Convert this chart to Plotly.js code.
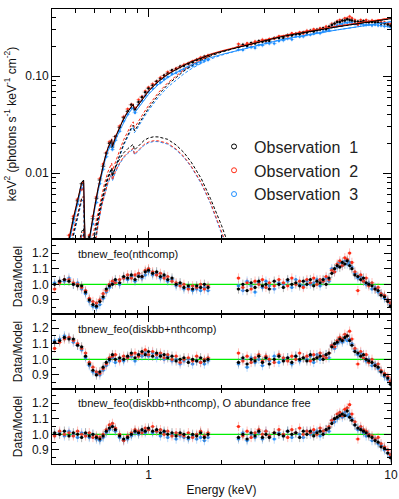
<!DOCTYPE html>
<html>
<head>
<meta charset="utf-8">
<script src="https://cdn.plot.ly/plotly-3.0.1.min.js"></script>
<style>
body{margin:0;background:#fff;}
#spec{width:399px;height:499px;}
</style>
</head>
<body>
<div id="spec"></div>
<script>
var FONT = 'Liberation Sans, Arial, sans-serif';

// energy bins (keV) shared by all three observations
var energy = [0.41,0.43,0.45,0.47,0.49,0.51,0.53,0.55,0.57,0.59,0.61,0.63,0.65,0.67,0.69,0.71,0.73,0.76,0.79,0.82,
  0.85,0.88,0.91,0.94,0.97,1.00,1.04,1.08,1.12,1.16,1.20,1.25,1.30,1.35,1.40,1.46,1.52,1.58,1.64,1.70,1.76,
  2.35,2.45,2.55,2.65,2.75,2.85,2.95,3.05,3.15,3.30,3.45,3.60,3.75,3.90,4.05,4.20,4.35,4.50,4.65,4.80,
  4.95,5.10,5.25,5.40,5.55,5.70,5.85,6.00,6.15,6.30,6.45,6.60,6.75,6.90,7.10,7.30,7.50,7.70,7.90,8.10,
  8.35,8.60,8.85,9.10,9.40,9.70,9.95];

// unfolded spectra, keV^2 (photons s^-1 keV^-1 cm^-2)
var flux1 = [0.0004,0.0007,0.0012,0.0021,0.0034,0.0052,0.0078,0.0011,0.0022,0.0034,0.0055,0.0085,0.0118,0.0160,0.0203,
  0.0186,0.0238,0.0296,0.0373,0.0433,0.0505,0.0455,0.0540,0.0605,0.0680,0.0745,0.0800,0.0880,0.0935,0.1010,
  0.1060,0.1150,0.1180,0.1255,0.1280,0.1350,0.1390,0.1470,0.1510,0.1590,0.1610,
  0.200,0.210,0.205,0.219,0.216,0.229,0.226,0.232,0.229,0.246,0.246,0.247,0.264,0.261,0.271,0.270,0.282,0.281,
  0.293,0.287,0.300,0.301,0.310,0.305,0.321,0.335,0.348,0.360,0.360,0.373,0.374,0.384,0.378,0.374,0.365,0.364,
  0.361,0.368,0.361,0.361,0.360,0.356,0.355,0.347,0.347,0.339,0.330];
var flux2 = [0.0004,0.0008,0.0013,0.0023,0.0036,0.0054,0.0068,0.0012,0.0023,0.0036,0.0057,0.0088,0.0124,0.0163,0.0210,
  0.0195,0.0238,0.0306,0.0382,0.0457,0.0510,0.0468,0.0570,0.0617,0.0700,0.0765,0.0830,0.0885,0.0965,0.1015,
  0.1100,0.1140,0.1200,0.1240,0.1310,0.1330,0.1420,0.1460,0.1550,0.1550,0.1630,
  0.214,0.208,0.217,0.212,0.227,0.226,0.237,0.230,0.241,0.242,0.257,0.257,0.257,0.275,0.272,0.282,0.274,0.293,
  0.291,0.304,0.297,0.310,0.311,0.324,0.322,0.345,0.346,0.367,0.378,0.371,0.393,0.393,0.410,0.393,0.377,0.339,
  0.378,0.367,0.378,0.363,0.374,0.363,0.370,0.357,0.357,0.349,0.344];
var flux3 = [0.0004,0.0007,0.0011,0.0020,0.0031,0.0048,0.0070,0.0010,0.0020,0.0030,0.0050,0.0078,0.0110,0.0148,0.0186,
  0.0175,0.0218,0.0270,0.0345,0.0402,0.0465,0.0420,0.0510,0.0560,0.0630,0.0690,0.0745,0.0818,0.0860,0.0925,
  0.0975,0.1050,0.1080,0.1130,0.1170,0.1230,0.1270,0.1320,0.1370,0.1430,0.1460,
  0.187,0.185,0.201,0.198,0.194,0.209,0.207,0.219,0.216,0.216,0.230,0.233,0.243,0.238,0.258,0.254,0.255,0.267,
  0.266,0.273,0.282,0.276,0.289,0.298,0.296,0.322,0.321,0.333,0.345,0.343,0.355,0.353,0.359,0.353,0.343,0.338,
  0.344,0.338,0.335,0.341,0.332,0.338,0.332,0.332,0.325,0.326,0.318];

// data/model, tbnew_feo(nthcomp)
var ratioA1 = [1.00,1.02,1.03,1.02,1.00,0.99,0.99,0.95,0.90,0.87,0.86,0.89,0.92,0.97,0.99,1.00,1.03,1.01,1.05,1.04,
  1.06,1.03,1.05,1.05,1.08,1.09,1.07,1.08,1.05,1.06,1.03,1.04,1.00,1.01,0.98,0.99,0.97,0.99,0.98,1.00,0.98,
  0.97,1.00,0.96,1.01,0.98,1.02,0.99,1.00,0.97,1.02,1.00,0.98,1.03,1.00,1.01,0.99,1.02,1.00,1.03,0.99,
  1.02,1.01,1.03,1.00,1.04,1.07,1.10,1.12,1.11,1.14,1.13,1.15,1.12,1.10,1.06,1.05,1.03,1.04,1.01,1.00,
  0.99,0.97,0.96,0.93,0.92,0.89,0.86];
var ratioA2 = [0.97,1.01,1.03,1.03,1.01,1.00,0.98,0.96,0.91,0.89,0.88,0.90,0.94,0.96,1.00,1.02,1.01,1.03,1.04,1.06,
  1.04,1.06,1.07,1.05,1.09,1.10,1.08,1.06,1.07,1.04,1.05,1.02,1.01,0.99,1.00,0.97,0.99,0.98,1.00,0.97,0.99,
  1.04,0.98,1.01,0.97,1.02,1.00,1.03,0.98,1.01,0.99,1.03,1.01,0.99,1.04,1.00,1.02,0.98,1.03,1.01,1.04,
  1.00,1.03,1.02,1.05,1.03,1.09,1.08,1.13,1.15,1.12,1.17,1.16,1.20,1.14,1.08,0.96,1.06,1.02,1.04,0.99,
  1.01,0.97,0.98,0.94,0.93,0.90,0.88];
var ratioA3 = [1.01,1.02,1.02,1.04,1.00,1.01,0.97,0.94,0.89,0.86,0.85,0.87,0.91,0.95,0.98,1.01,1.02,1.00,1.04,1.03,
  1.05,1.02,1.06,1.04,1.06,1.08,1.06,1.07,1.04,1.05,1.02,1.03,0.99,1.00,0.97,0.98,0.96,0.97,0.96,0.98,0.96,
  0.99,0.96,1.02,0.99,0.95,1.01,0.98,1.02,0.99,0.97,1.01,1.00,1.02,0.98,1.03,1.00,0.99,1.02,1.00,1.01,
  1.03,0.99,1.02,1.04,1.02,1.10,1.08,1.11,1.14,1.12,1.15,1.13,1.14,1.11,1.07,1.04,1.05,1.02,1.00,1.01,
  0.97,0.98,0.95,0.94,0.91,0.90,0.87];

// data/model, tbnew_feo(diskbb+nthcomp)
var ratioB1 = [1.11,1.12,1.14,1.13,1.13,1.09,1.08,1.02,0.97,0.93,0.90,0.92,0.95,0.98,1.00,1.03,1.00,1.01,1.00,1.02,
  1.04,1.01,1.03,1.05,1.03,1.05,1.02,1.04,1.02,1.03,1.01,1.02,0.99,1.00,1.01,0.98,1.00,0.99,1.01,0.99,1.00,
  0.98,1.01,0.97,1.00,0.99,1.02,0.98,1.01,0.97,1.00,1.02,0.99,1.01,0.98,1.02,1.00,1.01,0.99,1.03,1.00,
  1.01,1.02,1.00,1.03,1.04,1.08,1.10,1.11,1.13,1.12,1.14,1.15,1.12,1.09,1.05,1.04,1.02,1.03,1.00,0.99,
  0.98,0.96,0.95,0.92,0.90,0.88,0.84];
var ratioB2 = [1.07,1.11,1.13,1.14,1.12,1.10,1.07,1.04,0.98,0.95,0.92,0.91,0.94,0.97,1.01,1.02,1.03,0.99,1.02,1.01,
  1.03,1.04,1.02,1.04,1.06,1.03,1.05,1.03,1.04,1.01,1.03,1.00,1.02,0.98,1.00,1.01,0.99,1.02,0.98,1.00,1.01,
  1.04,0.99,1.02,0.98,1.01,1.03,0.99,1.02,1.00,0.98,1.03,1.01,0.99,1.02,1.00,1.04,1.01,1.02,0.99,1.03,
  1.01,1.04,1.02,1.01,1.04,1.09,1.08,1.12,1.14,1.13,1.16,1.15,1.18,1.13,1.07,0.97,1.05,1.01,1.03,0.98,
  1.00,0.96,0.97,0.93,0.91,0.89,0.86];
var ratioB3 = [1.12,1.13,1.15,1.14,1.11,1.09,1.06,1.01,0.96,0.92,0.91,0.90,0.93,0.96,0.99,1.01,0.98,1.00,0.99,1.01,
  1.02,0.99,1.03,1.02,1.04,1.02,1.04,1.01,1.03,1.00,1.02,0.99,1.00,0.97,0.99,1.00,0.97,0.99,0.98,0.97,0.99,
  0.97,1.00,0.95,1.01,0.98,1.00,0.96,1.01,0.99,1.02,0.98,1.00,1.01,0.97,1.02,0.99,1.01,1.00,1.02,0.98,
  1.03,1.00,1.02,1.03,1.01,1.09,1.07,1.10,1.12,1.11,1.13,1.12,1.13,1.10,1.06,1.03,1.04,1.01,0.99,1.00,
  0.96,0.97,0.94,0.92,0.89,0.87,0.85];

// data/model, tbnew_feo(diskbb+nthcomp), O abundance free
var ratioC1 = [1.01,1.00,1.02,0.99,1.01,1.00,0.98,1.01,0.99,1.00,0.98,0.97,0.99,1.02,1.04,1.05,1.03,0.99,0.97,0.98,
  1.00,1.02,1.01,1.03,1.02,1.04,1.02,1.03,1.01,1.02,1.00,1.01,0.99,1.01,1.00,0.98,1.00,0.99,1.01,0.98,1.00,
  0.98,1.00,0.97,1.01,0.99,1.02,0.98,1.00,0.98,1.01,1.00,0.99,1.02,1.00,1.01,0.98,1.02,1.00,1.02,0.99,
  1.01,1.02,1.00,1.03,1.04,1.07,1.10,1.11,1.12,1.13,1.12,1.15,1.11,1.09,1.06,1.04,1.03,1.02,1.01,0.99,
  0.98,0.96,0.95,0.92,0.91,0.88,0.85];
var ratioC2 = [0.99,1.02,1.00,1.01,0.99,1.02,1.00,0.99,1.01,0.98,0.99,0.98,1.00,1.03,1.06,1.07,1.04,1.00,0.96,0.99,
  1.01,1.03,1.02,1.01,1.04,1.03,1.05,1.02,1.03,1.00,1.02,0.99,1.01,1.00,0.99,1.01,0.98,1.00,1.02,0.99,1.01,
  1.05,0.99,1.02,0.98,1.01,1.03,1.00,1.02,0.99,1.01,1.03,1.00,0.98,1.03,1.01,1.04,1.00,1.02,1.01,1.03,
  1.00,1.04,1.02,1.03,1.05,1.09,1.10,1.13,1.14,1.12,1.16,1.17,1.19,1.13,1.08,0.97,1.05,1.03,1.02,1.00,
  0.99,0.97,0.98,0.94,0.92,0.90,0.87];
var ratioC3 = [1.00,1.01,0.99,1.02,1.00,0.98,1.01,1.00,0.98,1.00,0.97,0.96,0.98,1.01,1.03,1.05,1.02,0.98,0.96,0.97,
  0.99,1.01,1.00,1.02,1.01,1.03,1.01,1.02,0.99,1.01,0.98,1.00,0.97,0.99,0.98,0.97,0.99,0.97,0.98,0.96,0.98,
  0.97,1.01,0.96,1.00,0.98,1.01,0.97,1.02,0.99,0.97,1.01,0.99,1.02,0.98,1.01,1.00,0.98,1.02,1.00,1.01,
  1.02,0.99,1.01,1.03,1.02,1.09,1.08,1.10,1.13,1.11,1.14,1.12,1.13,1.10,1.06,1.03,1.04,1.01,0.99,1.00,
  0.96,0.97,0.94,0.93,0.90,0.88,0.86];

// model grid (keV) and model curves
var modelE = [0.45,0.47,0.49,0.51,0.53,0.54,0.55,0.56,0.58,0.60,0.62,0.64,0.66,0.68,0.70,0.705,0.71,0.73,0.76,0.79,
  0.82,0.85,0.865,0.875,0.89,0.92,0.96,1.0,1.05,1.1,1.2,1.3,1.4,1.5,1.65,1.8,2.0,2.3,2.6,3.0,
  3.5,4.0,4.5,5.0,5.5,6.0,6.5,7.0,7.5,8.0,8.5,9.0,9.5,10.0];
var total1 = [0.0012,0.0021,0.0034,0.0052,0.0080,0.0085,0.0012,0.0016,0.0028,0.0045,0.0070,0.0102,0.0140,0.0180,0.0215,
  0.0222,0.0188,0.0232,0.0293,0.0362,0.0425,0.0485,0.0510,0.0445,0.0470,0.0535,0.0615,0.0695,0.0790,0.0880,
  0.1040,0.1170,0.1290,0.1400,0.1540,0.1660,0.1790,0.1960,0.2120,0.2320,0.2530,0.2700,0.2850,0.2980,0.3100,
  0.3210,0.3310,0.3410,0.3500,0.3590,0.3670,0.3750,0.3830,0.3900];
var total2 = [0.0013,0.0022,0.0035,0.0053,0.0078,0.0083,0.0012,0.0016,0.0029,0.0046,0.0071,0.0104,0.0142,0.0183,0.0219,
  0.0226,0.0191,0.0236,0.0298,0.0368,0.0432,0.0492,0.0518,0.0452,0.0477,0.0543,0.0624,0.0705,0.0802,0.0893,
  0.1055,0.1188,0.1310,0.1420,0.1563,0.1685,0.1817,0.1990,0.2150,0.2355,0.2570,0.2740,0.2895,0.3025,0.3145,
  0.3260,0.3360,0.3460,0.3555,0.3645,0.3725,0.3810,0.3890,0.3960];
var total3 = [0.0011,0.0019,0.0031,0.0048,0.0073,0.0078,0.0011,0.0015,0.0026,0.0042,0.0065,0.0095,0.0131,0.0168,0.0201,
  0.0207,0.0176,0.0217,0.0273,0.0337,0.0396,0.0452,0.0476,0.0415,0.0438,0.0498,0.0573,0.0647,0.0735,0.0819,
  0.0968,0.1088,0.1200,0.1302,0.1432,0.1544,0.1665,0.1823,0.1972,0.2158,0.2353,0.2511,0.2651,0.2771,0.2883,
  0.2985,0.3078,0.3171,0.3255,0.3339,0.3413,0.3488,0.3562,0.3627];
// nthcomp component
var nth1 = [0.0009,0.0015,0.0024,0.0036,0.0055,0.0058,0.0008,0.0011,0.0017,0.0025,0.0037,0.0052,0.0072,0.0092,0.0110,
  0.0113,0.0095,0.0118,0.0153,0.0200,0.0247,0.0293,0.0312,0.0272,0.0290,0.0337,0.0397,0.0465,0.0553,0.0644,
  0.0817,0.0975,0.1127,0.1270,0.1452,0.1605,0.1761,0.1949,0.2116,0.2320,0.2530,0.2700,0.2850,0.2980,0.3100,
  0.3210,0.3310,0.3410,0.3500,0.3590,0.3670,0.3750,0.3830,0.3900];
var nth2 = [0.0010,0.0017,0.0026,0.0038,0.0055,0.0058,0.0008,0.0011,0.0019,0.0028,0.0041,0.0058,0.0080,0.0103,0.0123,
  0.0127,0.0106,0.0132,0.0171,0.0221,0.0270,0.0317,0.0338,0.0295,0.0313,0.0363,0.0426,0.0496,0.0586,0.0678,
  0.0852,0.1011,0.1162,0.1302,0.1483,0.1635,0.1791,0.1980,0.2146,0.2355,0.2570,0.2740,0.2895,0.3025,0.3145,
  0.3260,0.3360,0.3460,0.3555,0.3645,0.3725,0.3810,0.3890,0.3960];
var nth3 = [0.0008,0.0014,0.0022,0.0034,0.0051,0.0054,0.0007,0.0010,0.0016,0.0024,0.0036,0.0050,0.0070,0.0090,0.0107,
  0.0110,0.0093,0.0115,0.0148,0.0193,0.0237,0.0281,0.0300,0.0261,0.0277,0.0322,0.0379,0.0442,0.0523,0.0608,
  0.0769,0.0914,0.1055,0.1186,0.1354,0.1495,0.1640,0.1813,0.1968,0.2158,0.2353,0.2511,0.2651,0.2771,0.2883,
  0.2985,0.3078,0.3171,0.3255,0.3339,0.3413,0.3488,0.3562,0.3627];
// diskbb component (up to 2.6 keV)
var disk1 = [0.0003,0.0006,0.0010,0.0016,0.0025,0.0027,0.0004,0.0005,0.0011,0.0020,0.0033,0.0050,0.0068,0.0088,0.0105,
  0.0109,0.0093,0.0114,0.0140,0.0162,0.0178,0.0192,0.0198,0.0173,0.0180,0.0198,0.0218,0.0230,0.0237,0.0236,
  0.0223,0.0195,0.0163,0.0130,0.0088,0.0055,0.0029,0.0011,0.0004];
var disk2 = [0.0003,0.0005,0.0009,0.0015,0.0023,0.0025,0.0004,0.0005,0.0010,0.0018,0.0030,0.0046,0.0062,0.0080,0.0096,
  0.0099,0.0085,0.0104,0.0127,0.0147,0.0162,0.0175,0.0180,0.0157,0.0164,0.0180,0.0198,0.0209,0.0216,0.0215,
  0.0203,0.0177,0.0148,0.0118,0.0080,0.0050,0.0026,0.0010,0.0004];
var disk3 = [0.0003,0.0005,0.0009,0.0014,0.0022,0.0024,0.0004,0.0005,0.0010,0.0018,0.0029,0.0045,0.0061,0.0078,0.0094,
  0.0097,0.0083,0.0102,0.0125,0.0144,0.0159,0.0171,0.0176,0.0154,0.0161,0.0176,0.0194,0.0205,0.0212,0.0211,
  0.0199,0.0174,0.0145,0.0116,0.0078,0.0049,0.0025,0.0010,0.0004];

var obsNames = ['Observation\u00a0\u00a01', 'Observation\u00a0\u00a02', 'Observation\u00a0\u00a03'];
var panelLabels = ['tbnew_feo(nthcomp)', 'tbnew_feo(diskbb+nthcomp)', 'tbnew_feo(diskbb+nthcomp), O abundance free'];
var xTickVals = [1, 10], xTickText = ['1', '10'];
var xMinor = [0.5,0.6,0.7,0.8,0.9,2,3,4,5,6,7,8,9];
var fluxTickVals = [0.01, 0.1], fluxTickText = ['0.01', '0.10'];
var fluxMinor = [0.003,0.004,0.005,0.006,0.007,0.008,0.009,0.02,0.03,0.04,0.05,0.06,0.07,0.08,0.09,0.2,0.3,0.4];
var ratioTickVals = [0.9, 1.0, 1.1, 1.2], ratioTickText = ['0.9', '1.0', '1.1', '1.2'];
var ratioMinor = [0.85, 0.95, 1.05, 1.15, 1.25];

var cols = ['#000000', '#ff2a12', '#1f8fff'];
var errCols = ['rgba(110,110,110,0.5)', 'rgba(255,110,100,0.45)', 'rgba(90,170,255,0.45)'];

function dataTrace(y, ax, i, yerr){
  return {
    x: energy, y: y, xaxis: 'x' + ax, yaxis: 'y' + ax,
    type: 'scatter', mode: 'markers', showlegend: false, hoverinfo: 'skip',
    marker: {size: ax === '' ? 2.5 : 3.2, color: cols[i]},
    error_y: yerr,
    error_x: {type: 'percent', value: 2.5, color: errCols[i], thickness: 1, width: 0}
  };
}
function modelTrace(x, y, i, dash){
  return {
    x: x, y: y, xaxis: 'x', yaxis: 'y', type: 'scatter', mode: 'lines',
    showlegend: false, hoverinfo: 'skip',
    line: {color: cols[i], width: 1, dash: dash}
  };
}
function xAxis(anchor, labels){
  return {
    type: 'log', range: [Math.log10(0.4), 1], anchor: anchor,
    showline: true, linecolor: '#000', linewidth: 1, mirror: 'ticks',
    ticks: 'inside', ticklen: 8, tickwidth: 1, tickcolor: '#000',
    tickvals: xTickVals, ticktext: xTickText, showticklabels: labels,
    minor: {tickvals: xMinor, ticks: 'inside', ticklen: 4, tickcolor: '#000'},
    showgrid: false, zeroline: false,
    tickfont: {family: FONT, size: 12, color: '#111'}
  };
}
function ratioAxis(anchor, dom){
  return {
    domain: dom, anchor: anchor, range: [0.81, 1.29],
    showline: true, linecolor: '#000', linewidth: 1, mirror: 'ticks',
    ticks: 'inside', ticklen: 7, tickcolor: '#000',
    tickvals: ratioTickVals, ticktext: ratioTickText,
    minor: {tickvals: ratioMinor, ticks: 'inside', ticklen: 4, tickcolor: '#000'},
    showgrid: false, zeroline: false,
    tickfont: {family: FONT, size: 12, color: '#111'},
    title: {text: 'Data/Model', font: {family: FONT, size: 12, color: '#111'}, standoff: 6}
  };
}

function drawSpectrum(){
  var fluxes = [flux1, flux2, flux3];
  var totals = [total1, total2, total3];
  var nths = [nth1, nth2, nth3];
  var disks = [disk1, disk2, disk3];
  var ratios = [[ratioA1, ratioA2, ratioA3], [ratioB1, ratioB2, ratioB3], [ratioC1, ratioC2, ratioC3]];
  var data = [];
  var order = [2, 1, 0];
  order.forEach(function(i){
    data.push(dataTrace(fluxes[i], '', i, {type: 'percent', value: 5, color: errCols[i], thickness: 1, width: 0}));
  });
  order.forEach(function(i){
    data.push(modelTrace(modelE.slice(0, disks[i].length), disks[i], i, '3px,2px'));
    data.push(modelTrace(modelE, nths[i], i, '3px,2px'));
  });
  order.forEach(function(i){
    data.push(modelTrace(modelE, totals[i], i, 'solid'));
  });
  for (var p = 0; p < 3; p++){
    order.forEach(function(i){
      data.push(dataTrace(ratios[p][i], String(p + 2), i,
        {type: 'constant', value: 0.03, color: errCols[i], thickness: 1, width: 0}));
    });
  }
  // legend entries
  for (var i = 0; i < 3; i++){
    data.push({
      x: [null], y: [null], xaxis: 'x', yaxis: 'y', type: 'scatter', mode: 'markers',
      name: obsNames[i], showlegend: true,
      marker: {symbol: 'circle-open', size: 5, color: cols[i], line: {width: 1}}
    });
  }

  var annotations = [];
  var labelY = [0.4615, 0.2967, 0.134];
  for (var k = 0; k < 3; k++){
    annotations.push({
      xref: 'paper', yref: 'paper', x: 0.071, y: labelY[k], xanchor: 'left', yanchor: 'middle',
      text: panelLabels[k], showarrow: false,
      font: {family: FONT, size: 11, color: '#111'}
    });
  }
  var shapes = ['y2', 'y3', 'y4'].map(function(ya){
    return {type: 'line', xref: 'paper', yref: ya, x0: 0, x1: 1, y0: 1, y1: 1,
      layer: 'below', line: {color: '#00ee00', width: 1.3}};
  });

  var layout = {
    width: 399, height: 499,
    margin: {l: 52, r: 8, t: 9, b: 35},
    paper_bgcolor: '#fff', plot_bgcolor: '#fff',
    font: {family: FONT, size: 12, color: '#111'},
    showlegend: true,
    legend: {x: 0.478, y: 0.735, xanchor: 'left', yanchor: 'top', bgcolor: 'rgba(0,0,0,0)',
      font: {family: FONT, size: 16, color: '#222'}, itemwidth: 30, tracegroupgap: 0},
    xaxis: xAxis('y', false),
    xaxis2: xAxis('y2', false),
    xaxis3: xAxis('y3', false),
    xaxis4: (function(){
      var a = xAxis('y4', true);
      a.title = {text: 'Energy (keV)', font: {family: FONT, size: 12, color: '#111'}, standoff: 4};
      return a;
    })(),
    yaxis: {
      type: 'log', domain: [0.4945, 1], anchor: 'x',
      range: [Math.log10(0.0021), Math.log10(0.49)],
      showline: true, linecolor: '#000', linewidth: 1, mirror: 'ticks',
      ticks: 'inside', ticklen: 8, tickcolor: '#000',
      tickvals: fluxTickVals, ticktext: fluxTickText,
      minor: {tickvals: fluxMinor, ticks: 'inside', ticklen: 4, tickcolor: '#000'},
      showgrid: false, zeroline: false,
      tickfont: {family: FONT, size: 12, color: '#111'},
      title: {text: 'keV<sup>2</sup> (photons s<sup>-1</sup> keV<sup>-1</sup> cm<sup>-2</sup>)',
        font: {family: FONT, size: 12, color: '#111'}, standoff: 6}
    },
    yaxis2: ratioAxis('x2', [0.3297, 0.4945]),
    yaxis3: ratioAxis('x3', [0.1648, 0.3297]),
    yaxis4: ratioAxis('x4', [0, 0.1648]),
    annotations: annotations,
    shapes: shapes
  };
  Plotly.newPlot('spec', data, layout, {displayModeBar: false, staticPlot: true});
}
drawSpectrum();
</script>
</body>
</html>
